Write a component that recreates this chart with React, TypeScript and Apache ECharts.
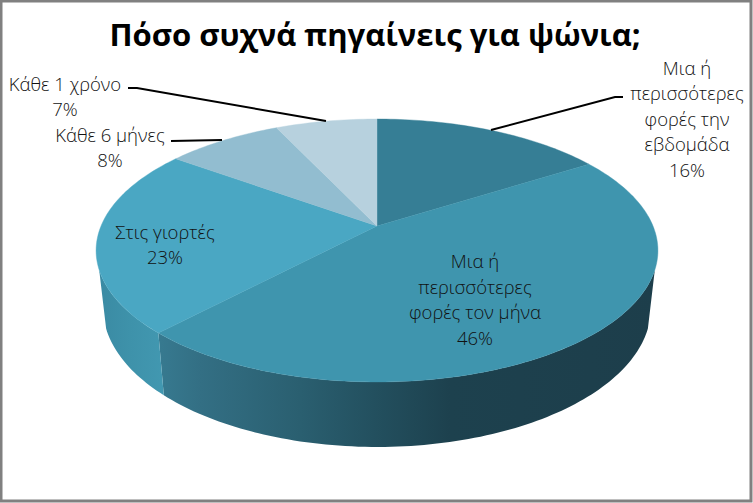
import React, { useEffect, useRef } from "react";
import * as echarts from "echarts";

const titleText = "Πόσο συχνά πηγαίνεις για ψώνια;";
const categories = [
  "Μια ή\nπερισσότερες\nφορές την\nεβδομάδα",
  "Μια ή\nπερισσότερες\nφορές τον μήνα",
  "Στις γιορτές",
  "Κάθε 6 μήνες",
  "Κάθε 1 χρόνο",
];
const values = [16, 46, 23, 8, 7];
const topColors = ["#367e95", "#3f95ae", "#4aa7c3", "#92bdd0", "#b7d1de"];
const labelCenters = [
  [687, 118],
  [475, 299],
  [165, 244],
  [110, 147],
  [65, 96],
];
const leaders = [
  [[491, 130], [615, 97], [623, 97]],
  null,
  null,
  [[222, 140], [171, 141]],
  [[326, 121], [137, 88], [128, 88]],
];

const FONT = "'Open Sans', 'Noto Sans', sans-serif";
const cx = 377;
const apexY = 226;
const A = 276;
const B = 126.9;
const K = 0.1863;
const topCy = 250.5, topRx = 281, topRy = 131.5;
const botCy = 308, botRx = 274, botRy = 139;
const wallFrom = (109 * Math.PI) / 180;
const wallTo = (251 * Math.PI) / 180;

const total = values.reduce((a, b) => a + b, 0);
const seriesData = values.map((v, i) => {
  const before = values.slice(0, i).reduce((a, b) => a + b, 0);
  return [(before / total) * 2 * Math.PI, ((before + v) / total) * 2 * Math.PI, i];
});

function topPoint(t: number) {
  const d = 1 + K * Math.cos(t);
  return [cx + (A * Math.sin(t)) / d, apexY - (B * Math.cos(t)) / d];
}
function botPoint(t: number) {
  const p = topPoint(t);
  return [cx + ((p[0] - cx) / topRx) * botRx, botCy + ((p[1] - topCy) / topRy) * botRy];
}
function samples(a: number, b: number) {
  const n = Math.max(2, Math.ceil((b - a) / 0.02));
  const out: number[] = [];
  for (let i = 0; i <= n; i++) out.push(a + ((b - a) * i) / n);
  return out;
}
const toPath = (pts: number[][]) =>
  "M" + pts.map((p) => p[0].toFixed(2) + " " + p[1].toFixed(2)).join("L") + "Z";

const frontWallStops: [number, string][] = [
  [158, "#377a90"],
  [200, "#336f84"],
  [300, "#2a5f70"],
  [373, "#23505f"],
  [450, "#1d414e"],
  [660, "#1d3e4b"],
];
const leftWallStops: [number, string][] = [
  [98, "#3a8aa3"],
  [130, "#3e92aa"],
  [165, "#4298b1"],
];
const wallGradient = (stops: [number, string][]) => {
  const x0 = stops[0][0];
  const x1 = stops[stops.length - 1][0];
  return new echarts.graphic.LinearGradient(
    x0,
    0,
    x1,
    0,
    stops.map((s) => ({ offset: (s[0] - x0) / (x1 - x0), color: s[1] })),
    true
  );
};

function renderSlice(_params: any, api: any) {
  const start = api.value(0);
  const end = api.value(1);
  const idx = api.value(2);
  const children: any[] = [];
  const a = Math.max(start, wallFrom);
  const b = Math.min(end, wallTo);
  if (b > a) {
    const ts = samples(a, b);
    const pts = ts.map(topPoint).concat(ts.slice().reverse().map(botPoint));
    children.push({
      type: "path",
      shape: { pathData: toPath(pts) },
      style: { fill: wallGradient(idx === 1 ? frontWallStops : leftWallStops), stroke: "none" },
    });
  }
  const rim = samples(start, end).map(topPoint);
  children.push({
    type: "path",
    shape: { pathData: toPath([[cx, apexY], ...rim]) },
    style: { fill: topColors[idx], stroke: topColors[idx], lineWidth: 0.4 },
  });
  return { type: "group", children };
}

export default function App() {
  const ref = useRef<HTMLDivElement>(null);
  useEffect(() => {
    const chart = echarts.init(ref.current!, null, { renderer: "svg" });
    const graphics: any[] = [
      {
        type: "rect",
        z: 0,
        shape: { x: 1, y: 1, width: 750, height: 500 },
        style: { fill: "#ffffff", stroke: "#808080", lineWidth: 3 },
      },
    ];
    leaders.forEach((l) => {
      if (l)
        graphics.push({
          type: "polyline",
          z: 50,
          shape: { points: l },
          style: { stroke: "#000000", lineWidth: 2, fill: "none" },
        });
    });
    categories.forEach((c, i) => {
      graphics.push({
        type: "text",
        z: 60,
        x: labelCenters[i][0],
        y: labelCenters[i][1],
        style: {
          text: c + "\n" + values[i] + "%",
          fontFamily: FONT,
          fontSize: 18.5,
          fontWeight: 300,
          lineHeight: 25.5,
          fill: "#111111",
          align: "center",
          verticalAlign: "middle",
        },
      });
    });
    chart.setOption({
      animation: false,
      title: {
        text: titleText,
        left: 370,
        top: 13,
        textAlign: "center",
        textStyle: { fontFamily: FONT, fontSize: 31, fontWeight: "bold", color: "#000000" },
      },
      graphic: { elements: graphics },
      series: [
        {
          type: "custom",
          coordinateSystem: "none",
          z: 10,
          silent: true,
          renderItem: renderSlice,
          data: seriesData,
        },
      ],
    });
    return () => chart.dispose();
  }, []);
  return (
    <div
      ref={ref}
      style={{ position: "absolute", left: 0, top: 0, width: 753, height: 503, background: "#fff" }}
    />
  );
}
